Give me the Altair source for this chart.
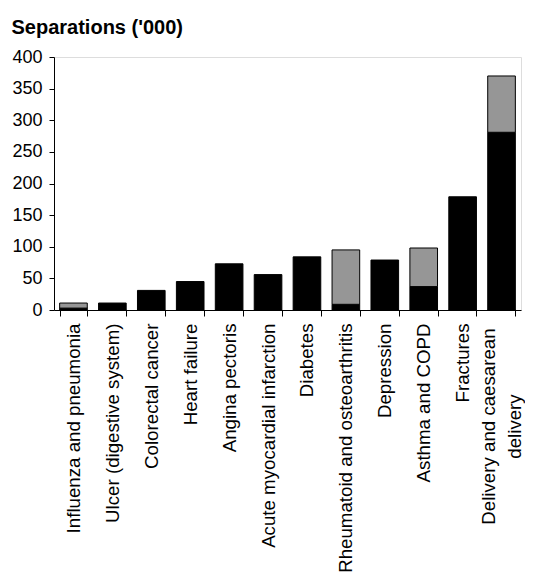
import altair as alt
import pandas as pd

categories = [
    "Influenza and pneumonia",
    "Ulcer (digestive system)",
    "Colorectal cancer",
    "Heart failure",
    "Angina pectoris",
    "Acute myocardial infarction",
    "Diabetes",
    "Rheumatoid and osteoarthritis",
    "Depression",
    "Asthma and COPD",
    "Fractures",
    "Delivery and caesarean delivery",
]
black_part = [3, 11, 31, 45, 73, 56, 84, 9, 79, 37, 179, 281]
gray_part = [8, 0, 0, 0, 0, 0, 0, 86, 0, 61, 0, 89]
y_ticks = [0, 50, 100, 150, 200, 250, 300, 350, 400]

rows = []
for c, b, g in zip(categories, black_part, gray_part):
    rows.append({"cat": c, "part": "A", "order": 0, "value": b})
    if g > 0:
        rows.append({"cat": c, "part": "B", "order": 1, "value": g})
df = pd.DataFrame(rows)

last = categories[-1]
font = "Liberation Sans"
is_last = f"datum.value == '{last}'"

chart = alt.Chart(df).mark_bar(stroke="black", strokeWidth=1).encode(
    x=alt.X(
        "cat:N",
        sort=categories,
        scale=alt.Scale(paddingInner=0.29, paddingOuter=0.145),
        axis=alt.Axis(
            title=None,
            labelAngle=-90,
            labelFont=font,
            labelFontSize=18.7,
            labelColor="black",
            labelLimit=400,
            labelLineHeight=26,
            labelPadding=alt.condition(is_last, alt.value(110), alt.value(7)),
            labelAlign=alt.condition(is_last, alt.value("center"), alt.value("right")),
            labelOffset=alt.condition(is_last, alt.value(-13), alt.value(0)),
            labelExpr=f"{is_last} ? ['Delivery and caesarean', 'delivery'] : datum.value",
            tickBand="extent",
            tickSize=6,
            tickColor="black",
            domainColor="black",
            labelOverlap=False,
        ),
    ),
    y=alt.Y(
        "value:Q",
        stack="zero",
        scale=alt.Scale(domain=[0, 400], nice=False),
        axis=alt.Axis(
            values=y_ticks,
            title="Separations ('000)",
            titleAngle=0,
            titleAlign="left",
            titleBaseline="alphabetic",
            titleX=-43,
            titleY=-24,
            titleFont=font,
            titleFontSize=20,
            titleFontWeight="bold",
            titleColor="black",
            labelFont=font,
            labelFontSize=18,
            labelColor="black",
            labelPadding=7,
            tickSize=5,
            tickColor="black",
            domainColor="black",
            grid=False,
        ),
    ),
    color=alt.Color(
        "part:N",
        scale=alt.Scale(domain=["A", "B"], range=["#000000", "#969696"]),
        legend=None,
    ),
    order=alt.Order("order:Q", sort="ascending"),
).properties(
    width=467,
    height=253,
    autosize=alt.AutoSizeParams(type="none"),
    padding={"left": 46, "top": 49, "right": 4, "bottom": 280},
).configure_view(stroke=None).configure(background="white")

chart.save("out.html", embed_options={"renderer": "svg", "actions": False})
